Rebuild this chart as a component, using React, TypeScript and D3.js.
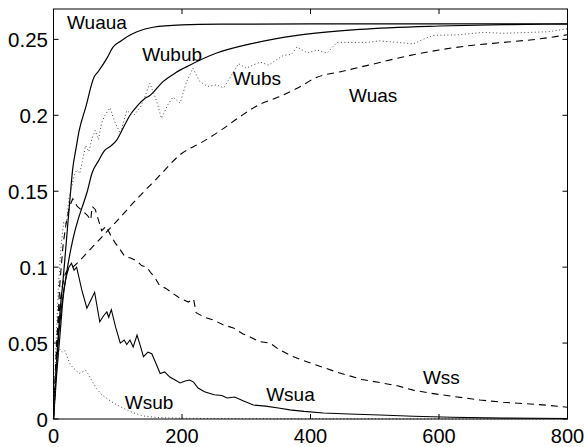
import React, { useEffect, useRef } from "react";
import * as d3 from "d3";

// tick values
const xTicks = [0, 200, 400, 600, 800];
const yTicks = [0, 0.05, 0.1, 0.15, 0.2, 0.25];

// series, [x, y]
const wuaua: [number, number][] = [
  [0, 0], [5, 0.04], [10, 0.07], [15, 0.092], [20, 0.117], [25, 0.142], [30, 0.165],
  [35, 0.178], [40, 0.19], [50, 0.205], [63, 0.225], [70, 0.229], [83, 0.2375],
  [93, 0.245], [105, 0.249], [120, 0.253], [130, 0.255], [155, 0.258], [200, 0.2595],
  [260, 0.26], [400, 0.2602], [800, 0.2603],
];

const wubub: [number, number][] = [
  [0, 0], [5, 0.03], [10, 0.055], [15, 0.08], [20, 0.095], [30, 0.118], [38, 0.131],
  [45, 0.14], [52, 0.149], [60, 0.162], [70, 0.17], [80, 0.177], [90, 0.18],
  [98, 0.1835], [110, 0.193], [119, 0.2], [130, 0.206], [142, 0.211], [150, 0.213],
  [170, 0.222], [190, 0.228], [212, 0.233], [254, 0.241], [306, 0.247], [379, 0.2526],
  [477, 0.2566], [600, 0.2588], [700, 0.2597], [800, 0.26],
];

const wubs: [number, number][] = [
  [0, 0], [4, 0.05], [8, 0.09], [12, 0.115], [16, 0.13], [20, 0.128], [24, 0.145],
  [28, 0.152], [32, 0.16], [36, 0.164], [41, 0.162], [45, 0.17], [50, 0.18],
  [55, 0.176], [60, 0.185], [65, 0.19], [70, 0.184], [75, 0.195], [80, 0.2],
  [88, 0.205], [95, 0.196], [104, 0.188], [114, 0.203], [125, 0.2], [135, 0.205],
  [142, 0.212], [150, 0.221], [160, 0.21], [168, 0.198], [178, 0.207], [186, 0.212],
  [197, 0.208], [207, 0.222], [217, 0.231], [228, 0.222], [240, 0.219], [254, 0.22],
  [265, 0.218], [275, 0.225], [288, 0.234], [300, 0.231], [310, 0.233], [322, 0.235],
  [335, 0.233], [345, 0.236], [358, 0.2395], [370, 0.24], [379, 0.245], [395, 0.241],
  [410, 0.243], [426, 0.241], [441, 0.248], [465, 0.248], [488, 0.248], [508, 0.249],
  [535, 0.248], [560, 0.247], [575, 0.25], [591, 0.2526], [630, 0.253], [669, 0.2546],
  [700, 0.254], [742, 0.2546], [770, 0.255], [800, 0.257],
];

const wuas: [number, number][] = [
  [0, 0], [5, 0.045], [10, 0.075], [15, 0.09], [20, 0.097], [30, 0.1], [40, 0.104],
  [60, 0.113], [80, 0.122], [100, 0.131], [130, 0.145], [160, 0.158], [200, 0.175],
  [230, 0.182], [260, 0.19], [290, 0.199], [320, 0.207], [350, 0.212], [380, 0.218],
  [410, 0.225], [450, 0.229], [500, 0.234], [550, 0.239], [600, 0.243], [650, 0.246],
  [700, 0.248], [750, 0.25], [800, 0.253],
];

const wss: [number, number][] = [
  [0, 0], [5, 0.05], [10, 0.09], [15, 0.115], [20, 0.13], [25, 0.14], [30, 0.145],
  [37, 0.14], [44, 0.1375], [53, 0.134], [58, 0.131], [60, 0.14], [65, 0.138],
  [75, 0.124], [82, 0.127], [90, 0.12], [96, 0.116], [103, 0.112], [111, 0.107],
  [120, 0.106], [130, 0.104], [137, 0.101], [145, 0.1], [152, 0.096], [158, 0.093],
  [165, 0.088], [175, 0.086], [185, 0.083], [195, 0.08], [210, 0.077], [218, 0.079],
  [222, 0.07], [235, 0.067], [250, 0.065], [264, 0.062], [280, 0.06], [295, 0.056],
  [306, 0.054], [320, 0.051], [337, 0.05], [350, 0.046], [368, 0.042], [385, 0.039],
  [399, 0.037], [420, 0.034], [440, 0.031], [456, 0.029], [480, 0.026], [508, 0.024],
  [534, 0.022], [560, 0.019], [586, 0.017], [620, 0.015], [664, 0.0125], [700, 0.011],
  [742, 0.0099], [770, 0.009], [800, 0.0077],
];

const wsua: [number, number][] = [
  [0, 0], [4, 0.03], [8, 0.055], [12, 0.072], [16, 0.085], [20, 0.094], [24, 0.1],
  [28, 0.1026], [32, 0.098], [36, 0.1], [44, 0.085], [52, 0.073], [64, 0.0835],
  [72, 0.064], [78, 0.068], [83, 0.0705], [86, 0.067], [90, 0.072], [97, 0.06],
  [104, 0.05], [110, 0.052], [114, 0.049], [119, 0.052], [124, 0.0474], [130, 0.0553],
  [136, 0.047], [140, 0.041], [147, 0.044], [153, 0.043], [160, 0.036], [166, 0.03],
  [173, 0.031], [181, 0.0276], [188, 0.026], [197, 0.0237], [205, 0.025], [212, 0.0257],
  [218, 0.0243], [225, 0.0204], [235, 0.018], [250, 0.016], [262, 0.0155], [270, 0.0138],
  [282, 0.0145], [295, 0.012], [311, 0.0092], [330, 0.0085], [350, 0.0072], [368, 0.006],
  [390, 0.005], [420, 0.004], [460, 0.0033], [508, 0.0026], [560, 0.0018], [620, 0.0012],
  [700, 0.0006], [800, 0.0003],
];

const wsub: [number, number][] = [
  [0, 0], [3, 0.03], [6, 0.042], [10, 0.046], [14, 0.044], [18, 0.045], [22, 0.04],
  [26, 0.036], [30, 0.034], [35, 0.032], [40, 0.03], [45, 0.031], [50, 0.032],
  [55, 0.029], [60, 0.025], [67, 0.02], [75, 0.016], [88, 0.012], [100, 0.009],
  [114, 0.006], [125, 0.004], [140, 0.002], [160, 0.001], [200, 0.0005], [300, 0.0002],
  [800, 0],
];

const seriesNames = ["Wuaua", "Wubub", "Wubs", "Wuas", "Wss", "Wsua", "Wsub"];
const seriesData = [wuaua, wubub, wubs, wuas, wss, wsua, wsub];
// label anchors (data units)
const labelX = [21, 138, 279, 460, 575, 331, 111];
const labelY = [0.257, 0.2355, 0.2197, 0.2086, 0.023, 0.0118, 0.0066];

export default function App() {
  const svgRef = useRef<SVGSVGElement>(null);

  useEffect(() => {
    document.body.style.margin = "0";
    const w = 584;
    const h = 447;
    const left = 53.5, right = 567.5, top = 9, bottom = 419;
    const font = "'Liberation Sans', Arial, Helvetica, sans-serif";

    const svg = d3.select(svgRef.current!);
    svg.selectAll("*").remove();
    svg.attr("width", w).attr("height", h).style("background", "#fff").style("display", "block");

    const x = d3.scaleLinear().domain([0, 800]).range([left, right]);
    const y = d3.scaleLinear().domain([0, 0.27]).range([bottom, top]);

    // styles per series
    const styles = [
      { dash: null, smooth: true, color: "#000", width: 1.2 },
      { dash: null, smooth: true, color: "#000", width: 1.2 },
      { dash: "1,2.5", smooth: false, color: "#444", width: 1 },
      { dash: "7,5", smooth: true, color: "#000", width: 1.1 },
      { dash: "7,5", smooth: false, color: "#000", width: 1.1 },
      { dash: null, smooth: false, color: "#000", width: 1.1 },
      { dash: "1,2.5", smooth: false, color: "#444", width: 1 },
    ];

    const plot = svg.append("g");
    seriesData.forEach((data, i) => {
      const st = styles[i];
      const line = d3
        .line<[number, number]>()
        .x((d) => x(d[0]))
        .y((d) => y(d[1]))
        .curve(st.smooth ? d3.curveMonotoneX : d3.curveLinear);
      const p = plot
        .append("path")
        .attr("d", line(data))
        .attr("fill", "none")
        .attr("stroke", st.color)
        .attr("stroke-width", st.width);
      if (st.dash) p.attr("stroke-dasharray", st.dash);
    });

    // box
    svg
      .append("rect")
      .attr("x", left)
      .attr("y", top)
      .attr("width", right - left)
      .attr("height", bottom - top)
      .attr("fill", "none")
      .attr("stroke", "#000")
      .attr("stroke-width", 1);

    const tl = 5;
    const ticks = svg.append("g").attr("stroke", "#000").attr("stroke-width", 1);
    xTicks.forEach((t) => {
      ticks.append("line").attr("x1", x(t)).attr("x2", x(t)).attr("y1", bottom).attr("y2", bottom - tl);
      ticks.append("line").attr("x1", x(t)).attr("x2", x(t)).attr("y1", top).attr("y2", top + tl);
    });
    yTicks.forEach((t) => {
      ticks.append("line").attr("x1", left).attr("x2", left + tl).attr("y1", y(t)).attr("y2", y(t));
      ticks.append("line").attr("x1", right).attr("x2", right - tl).attr("y1", y(t)).attr("y2", y(t));
    });

    svg
      .append("g")
      .selectAll("text")
      .data(xTicks)
      .join("text")
      .attr("x", (d) => x(d))
      .attr("y", 443)
      .attr("text-anchor", "middle")
      .attr("font-family", font)
      .attr("font-size", 20)
      .text((d) => String(d));

    svg
      .append("g")
      .selectAll("text")
      .data(yTicks)
      .join("text")
      .attr("x", 48)
      .attr("y", (d) => y(d) + 7.5)
      .attr("text-anchor", "end")
      .attr("font-family", font)
      .attr("font-size", 20.5)
      .text((d) => String(d));

    svg
      .append("g")
      .selectAll("text")
      .data(seriesNames)
      .join("text")
      .attr("x", (d, i) => x(labelX[i]))
      .attr("y", (d, i) => y(labelY[i]))
      .attr("font-family", font)
      .attr("font-size", 19)
      .text((d) => d);
  }, []);

  return (
    <div>
      <svg ref={svgRef}></svg>
    </div>
  );
}
